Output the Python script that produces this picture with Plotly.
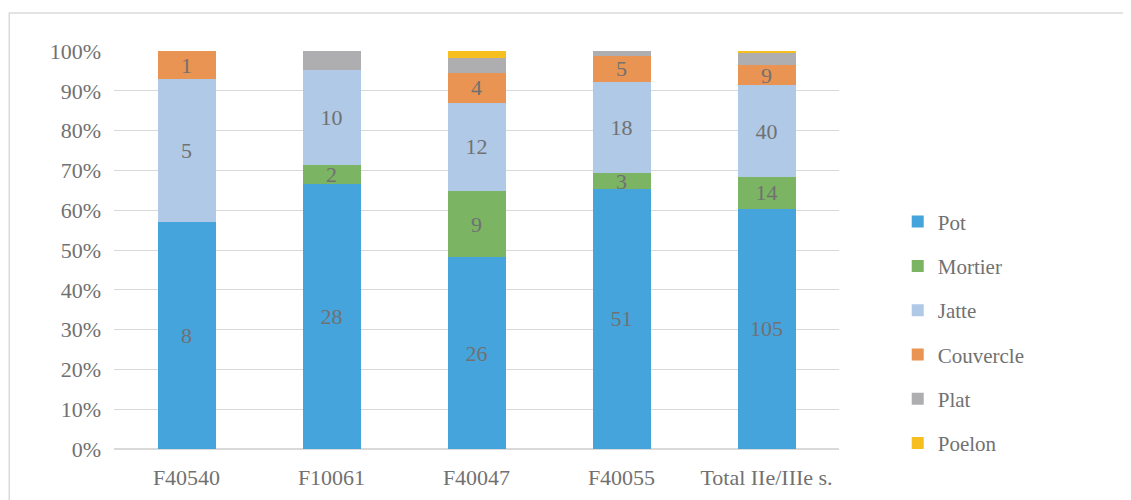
import plotly.graph_objects as go

categories = ["F40540", "F10061", "F40047", "F40055", "Total IIe/IIIe s."]
pot = [8, 28, 26, 51, 105]
mortier = [0, 2, 9, 3, 14]
jatte = [5, 10, 12, 18, 40]
couvercle = [1, 0, 4, 5, 9]
plat = [0, 2, 2, 1, 5]
poelon = [0, 0, 1, 0, 1]

series = [
    ("Pot", pot, "#46A4DC", True),
    ("Mortier", mortier, "#7BB463", True),
    ("Jatte", jatte, "#AFC9E7", True),
    ("Couvercle", couvercle, "#E99452", True),
    ("Plat", plat, "#AEAEB0", False),
    ("Poelon", poelon, "#F6BF1F", False),
]

FONT = "Liberation Serif"
GREY = "#717171"

fig = go.Figure()
for name, vals, color, show in series:
    text = [str(v) if (show and v > 0) else "" for v in vals]
    fig.add_trace(go.Bar(
        x=categories, y=vals, name=name, legendgroup=name,
        marker=dict(color=color, line=dict(width=0)),
        text=text, textposition="inside", insidetextanchor="middle",
        textfont=dict(family=FONT, size=22, color=GREY),
        textangle=0, constraintext="none", cliponaxis=False,
    ))

fig.update_layout(
    barmode="stack", barnorm="percent", bargap=0.6,
    width=1131, height=500,
    margin=dict(l=106, r=300, t=43, b=59),
    paper_bgcolor="white", plot_bgcolor="white",
    font=dict(family=FONT, color=GREY, size=21),
    uniformtext=dict(mode="show", minsize=8),
    legend=dict(
        x=1.081, y=0.622, xanchor="left", yanchor="top",
        traceorder="grouped", tracegroupgap=14,
        font=dict(family=FONT, size=21, color=GREY),
        itemwidth=30,
    ),
    showlegend=True,
    shapes=[dict(type="rect", xref="paper", yref="paper",
                 x0=-0.1445, x1=1.5, y0=-0.3, y1=1.0955,
                 line=dict(color="#DADADA", width=1.5), fillcolor="rgba(0,0,0,0)",
                 layer="below")],
)
fig.update_yaxes(
    range=[0, 100], dtick=10, ticksuffix="%", showgrid=True,
    gridcolor="#D9D9D9", gridwidth=1, zeroline=True, zerolinecolor="#D9D9D9",
    ticks="", ticklen=0, tickfont=dict(family=FONT, size=22, color=GREY),
    showline=False, ticklabelstandoff=12,
)
fig.update_xaxes(
    showgrid=False, showline=True, linecolor="#D9D9D9",
    tickfont=dict(family=FONT, size=22, color=GREY), ticks="",
    ticklabelstandoff=9,
)

fig.write_html("out.html")
